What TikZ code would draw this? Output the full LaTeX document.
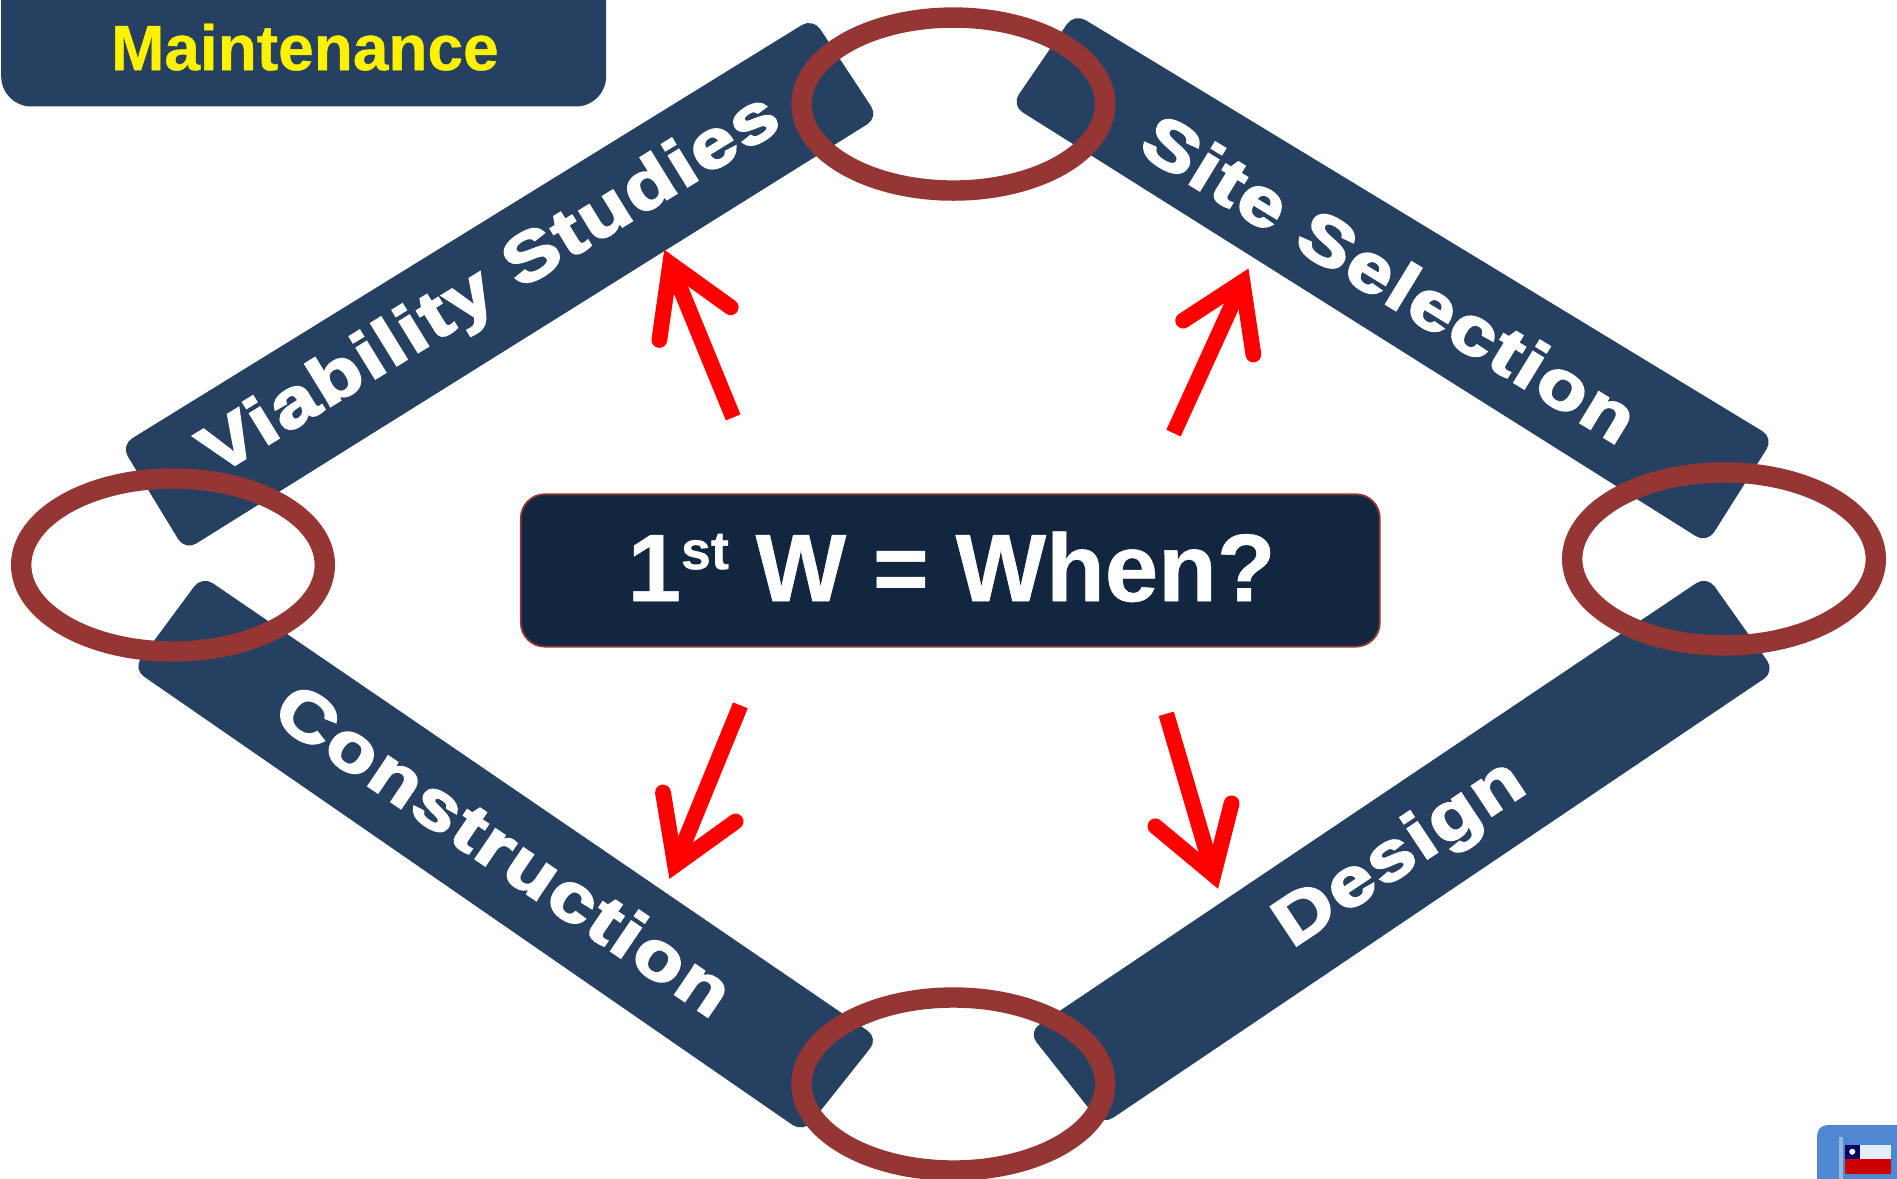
\documentclass[tikz,border=0pt]{standalone}
\usepackage{fontspec}
\setmainfont{Liberation Sans}
\newfontfamily\ribbonfont[FakeBold=3,LetterSpace=3]{Liberation Sans Bold}
\newfontfamily\titlefont[FakeBold=0.6]{Liberation Sans Bold}
\definecolor{ribbonblue}{HTML}{264061}
\definecolor{ringred}{HTML}{943634}
\definecolor{boxnavy}{HTML}{12263F}
\definecolor{tileblue}{HTML}{4F88D0}
\tikzset{
  ribbon/.style={fill=ribbonblue,rounded corners=6.5pt},
  ring/.style={draw=ringred,line width=10.2pt},
  ribtext/.style={text=white,inner sep=0pt,font=\ribbonfont\fontsize{34}{34}\selectfont},
  shaft/.style={draw=red,line width=7.9pt,line cap=butt},
  barb/.style={draw=red,line width=7.9pt,line cap=round,line join=miter,miter limit=10},
}
\begin{document}
\begin{tikzpicture}[x=0.60497pt,y=-0.60497pt]
\useasboundingbox (0,0) rectangle (1568,974.5);
% ribbons
\fill[ribbon] (100,368) -- (672,15) -- (726,97) -- (153,455) -- cycle;
\fill[ribbon] (888,11) -- (1466,362) -- (1411,449) -- (836,87) -- cycle;
\fill[ribbon] (1411,476) -- (1467,555) -- (911,930) -- (850,853) -- cycle;
\fill[ribbon] (167,476) -- (726,858) -- (664,936) -- (110,553) -- cycle;
% maintenance tab
\fill[ribbonblue,rounded corners=15pt] (1,-30) rectangle (501,88);
\node[inner sep=0pt,text=yellow,font=\titlefont\fontsize{32}{32}\selectfont] (maint) at (252,39) {Maintenance};
% ribbon labels
\node[ribtext,rotate=31.6] (via) at (406,237) {\scalebox{1.2}[1]{Viability Studies}};
\node[ribtext,rotate=-31.4] (site) at (1149,230) {\scalebox{1.2}[1]{Site Selection}};
\node[ribtext,rotate=-34.2] (cons) at (417,702) {\scalebox{1.2}[1]{Construction}};
\node[ribtext,rotate=33.6] (des) at (1158,707) {\scalebox{1.2}[1]{Design}};
% rings
\draw[ring] (788,86) ellipse [x radius=125.5,y radius=71.5];
\draw[ring] (143,467) ellipse [x radius=125.5,y radius=71.5];
\draw[ring] (1425,462) ellipse [x radius=125.5,y radius=71.5];
\draw[ring] (788,896) ellipse [x radius=125.5,y radius=71.5];
% centre
\fill[boxnavy,draw=ringred,line width=0.9pt,rounded corners=12pt] (430.5,408.5) rectangle (1140.5,534.5);
\node[inner sep=0pt,text=white,font=\titlefont\fontsize{48}{48}\selectfont] (when) at (786.5,468.5)
  {1{\fontsize{27}{27}\selectfont\raisebox{16pt}{st}} W = When?};
% arrows
\coordinate (t1) at (606,345); \coordinate (h1) at (554,218); \coordinate (a1) at (545,281); \coordinate (b1) at (604,254);
\coordinate (t2) at (970,358); \coordinate (h2) at (1027,233); \coordinate (a2) at (978,265); \coordinate (b2) at (1036,293);
\coordinate (t3) at (612,583); \coordinate (h3) at (558,715); \coordinate (a3) at (548,655); \coordinate (b3) at (608,679);
\coordinate (t4) at (964,590); \coordinate (h4) at (1003,723); \coordinate (a4) at (955,683); \coordinate (b4) at (1018,664);
\foreach \i in {1,2,3,4}{
  \draw[shaft] (t\i) -- (h\i);
  \draw[barb] (a\i) -- (h\i) -- (b\i);
}
% flag tile
\fill[tileblue,rounded corners=5pt] (1502,930) rectangle (1590,1000);
\clip (0,0) rectangle (1568,974.5);
\fill[tileblue!60!white] (1520,940) rectangle (1523,975);
\fill[white!85!tileblue] (1525,946) rectangle (1563,958);
\fill[red!80!black] (1525,958) rectangle (1563,970);
\fill[blue!40!black] (1525,946) rectangle (1537,958);
\fill[white] (1531,952) circle (2.5);
\end{tikzpicture}
\end{document}
